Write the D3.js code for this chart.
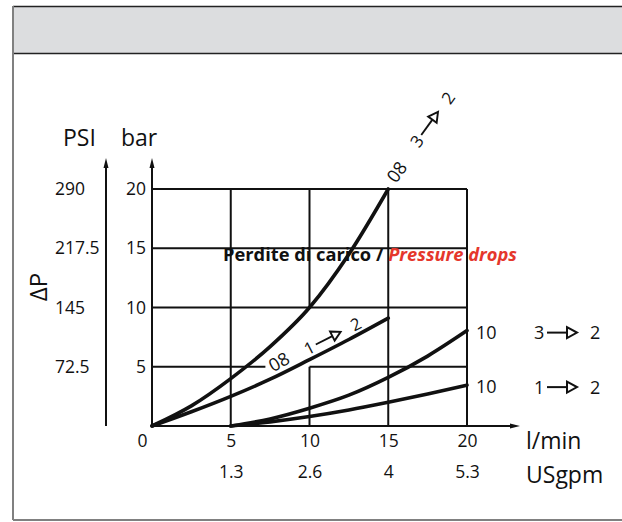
<!DOCTYPE html>
<html>
<head>
<meta charset="utf-8">
<script src="https://cdn.jsdelivr.net/npm/d3@7"></script>
<style>
  html, body { margin: 0; background: #fff; overflow: hidden; }
  svg { display: block; font-family: "Open Sans", sans-serif; }
</style>
</head>
<body>
<div id="chart"></div>
<script>
// Axis ticks
const flowTicks = [0, 5, 10, 15, 20];
const gpmTicks = ["", "1.3", "2.6", "4", "5.3"];
const barTicks = [5, 10, 15, 20];
const psiTicks = ["72.5", "145", "217.5", "290"];

// Size 08 curves (start at 0 l/min)
const flow08 = [0, 2.5, 5, 7.5, 10, 12.5, 15];
const dp08_32 = [0, 1.7, 4.0, 6.7, 10, 14.5, 20];
const dp08_12 = [0, 1.2, 2.5, 3.95, 5.6, 7.3, 9.1];

// Size 10 curves (start at 5 l/min)
const flow10 = [5, 7.5, 10, 12.5, 15, 17.5, 20];
const dp10_32 = [0, 0.6, 1.5, 2.6, 4.1, 5.9, 8.05];
const dp10_12 = [0, 0.35, 0.8, 1.35, 2.0, 2.7, 3.45];

const W = 622, H = 522;
const ink = "#111";

const svg = d3.select("#chart").append("svg")
    .attr("width", W)
    .attr("height", H);

const x = d3.scaleLinear().domain([0, 20]).range([152, 467]);
const y = d3.scaleLinear().domain([0, 20]).range([426, 189]);

// Frame and grey header band
svg.append("rect")
    .attr("x", 13).attr("y", 6)
    .attr("width", W - 13).attr("height", 47)
    .attr("fill", "#dcdddf");
svg.append("line").attr("x1", 13).attr("x2", W).attr("y1", 6.5).attr("y2", 6.5)
    .attr("stroke", "#222").attr("stroke-width", 1.5);
svg.append("line").attr("x1", 13).attr("x2", W).attr("y1", 53.5).attr("y2", 53.5)
    .attr("stroke", "#222").attr("stroke-width", 1.5);
svg.append("line").attr("x1", 13).attr("x2", 13).attr("y1", 6).attr("y2", 520)
    .attr("stroke", "#808080").attr("stroke-width", 2);
svg.append("line").attr("x1", 13).attr("x2", W).attr("y1", 520).attr("y2", 520)
    .attr("stroke", "#808080").attr("stroke-width", 2);

// Grid (some segments are broken to leave room for curve labels)
const vGrid = [[5, 0, 20], [10, 10, 20], [10, 0, 5], [15, 0, 20], [20, 0, 20]];
const hGrid = [[20, 0, 20], [15, 0, 20], [10, 0, 20], [5, 0, 7.2], [5, 10, 20]];

svg.append("g").selectAll("line")
    .data(vGrid)
    .join("line")
    .attr("x1", d => x(d[0])).attr("x2", d => x(d[0]))
    .attr("y1", d => y(d[1])).attr("y2", d => y(d[2]))
    .attr("stroke", ink).attr("stroke-width", 2);

svg.append("g").selectAll("line")
    .data(hGrid)
    .join("line")
    .attr("y1", d => y(d[0])).attr("y2", d => y(d[0]))
    .attr("x1", d => x(d[1])).attr("x2", d => x(d[2]))
    .attr("stroke", ink).attr("stroke-width", 2);

// Axis arrows
const axisTop = 158;
function vArrow(px) {
    svg.append("line").attr("x1", px).attr("x2", px)
        .attr("y1", y(0)).attr("y2", axisTop + 8)
        .attr("stroke", ink).attr("stroke-width", 2);
    svg.append("path")
        .attr("d", `M${px},${axisTop} L${px - 2.5},${axisTop + 10} L${px + 2.5},${axisTop + 10} Z`)
        .attr("fill", ink);
}
vArrow(x(0));
vArrow(106);

const xEnd = 520;
svg.append("line").attr("x1", x(0)).attr("x2", xEnd - 8)
    .attr("y1", y(0)).attr("y2", y(0))
    .attr("stroke", ink).attr("stroke-width", 2);
svg.append("path")
    .attr("d", `M${xEnd},${y(0)} L${xEnd - 10},${y(0) - 2.5} L${xEnd - 10},${y(0) + 2.5} Z`)
    .attr("fill", ink);

// Tick labels
const tickFont = 17.5;
function styleAxis(g) {
    g.select(".domain").remove();
    g.selectAll("text")
        .attr("font-family", "Open Sans, sans-serif")
        .attr("font-size", tickFont)
        .attr("fill", ink);
}

svg.append("g")
    .attr("transform", `translate(0,${y(0)})`)
    .call(d3.axisBottom(x).tickValues(flowTicks).tickSize(0).tickPadding(9))
    .call(styleAxis)
    .call(g => g.selectAll("text").attr("dx", d => d === 0 ? -10 : 0));

svg.append("g")
    .attr("transform", `translate(0,${y(0)})`)
    .call(d3.axisBottom(x).tickValues(flowTicks).tickSize(0).tickPadding(40)
        .tickFormat((d, i) => gpmTicks[i]))
    .call(styleAxis);

svg.append("g")
    .attr("transform", `translate(146,0)`)
    .call(d3.axisLeft(y).tickValues(barTicks).tickSize(0).tickPadding(0))
    .call(styleAxis);

svg.append("g")
    .attr("transform", `translate(55,0)`)
    .call(d3.axisLeft(y).tickValues(barTicks).tickSize(0).tickPadding(0)
        .tickFormat((d, i) => psiTicks[i]))
    .call(styleAxis)
    .call(g => g.selectAll("text").attr("text-anchor", "start"));

// Unit labels
const unitFont = 23;
svg.append("text").attr("x", 63).attr("y", 146).attr("font-size", unitFont).attr("fill", ink).text("PSI");
svg.append("text").attr("x", 121).attr("y", 146).attr("font-size", unitFont).attr("fill", ink).text("bar");
svg.append("text").attr("x", 526).attr("y", 449).attr("font-size", unitFont).attr("fill", ink).text("l/min");
svg.append("text").attr("x", 526).attr("y", 483).attr("font-size", unitFont).attr("fill", ink).text("USgpm");
svg.append("text")
    .attr("transform", "translate(47,287) rotate(-90)")
    .attr("text-anchor", "middle")
    .attr("font-size", 24).attr("fill", ink)
    .text("ΔP");

// Title
const title = svg.append("text")
    .attr("x", 370).attr("y", 261)
    .attr("text-anchor", "middle")
    .attr("font-size", 18.5)
    .attr("font-weight", "bold")
    .attr("textLength", 294)
    .attr("lengthAdjust", "spacingAndGlyphs");
title.append("tspan").attr("fill", ink).text("Perdite di carico / ");
title.append("tspan").attr("fill", "#e5372c").attr("font-style", "italic").text("Pressure drops");

// Curves
const line = d3.line()
    .x(d => x(d[0]))
    .y(d => y(d[1]))
    .curve(d3.curveMonotoneX);

const curves = [
    d3.zip(flow08, dp08_32),
    d3.zip(flow08, dp08_12),
    d3.zip(flow10, dp10_32),
    d3.zip(flow10, dp10_12)
];

svg.append("g").selectAll("path")
    .data(curves)
    .join("path")
    .attr("d", line)
    .attr("fill", "none")
    .attr("stroke", ink)
    .attr("stroke-width", 3.6)
    .attr("stroke-linecap", "round");

// Curve labels
const labelFont = 18;

function flowLabel(from, to, tx, ty, angle, k) {
    const g = svg.append("g")
        .attr("transform", `translate(${tx},${ty}) rotate(${angle}) scale(${k})`);
    g.append("text").attr("x", 0).attr("y", 6.5)
        .attr("font-size", labelFont).attr("fill", ink).text(from);
    g.append("line").attr("x1", 13).attr("x2", 33).attr("y1", 0).attr("y2", 0)
        .attr("stroke", ink).attr("stroke-width", 2);
    g.append("path").attr("d", "M33,-5.5 L43,0 L33,5.5 Z")
        .attr("fill", "none").attr("stroke", ink).attr("stroke-width", 2);
    g.append("text").attr("x", 56).attr("y", 6.5)
        .attr("font-size", labelFont).attr("fill", ink).text(to);
}

function sizeLabel(txt, cx, cy, angle) {
    svg.append("text")
        .attr("transform", `translate(${cx},${cy}) rotate(${angle})`)
        .attr("text-anchor", "middle")
        .attr("dy", "0.35em")
        .attr("font-size", labelFont).attr("fill", ink)
        .text(txt);
}

sizeLabel("08", 397, 172, -54);
flowLabel("3", "2", 414, 145, -54, 0.95);
sizeLabel("08", 279, 362, -30);
flowLabel("1", "2", 305, 350, -27, 0.93);

// Right side labels for size 10
const endFlow = flow10[flow10.length - 1];
[[dp10_32, "3"], [dp10_12, "1"]].forEach(([s, from]) => {
    const ly = y(s[s.length - 1]) + 2;
    svg.append("text")
        .attr("x", x(endFlow) + 9).attr("y", ly)
        .attr("dy", "0.35em")
        .attr("font-size", labelFont).attr("fill", ink)
        .text("10");
    flowLabel(from, "2", x(endFlow) + 67, ly, 0, 1);
});
</script>
</body>
</html>
